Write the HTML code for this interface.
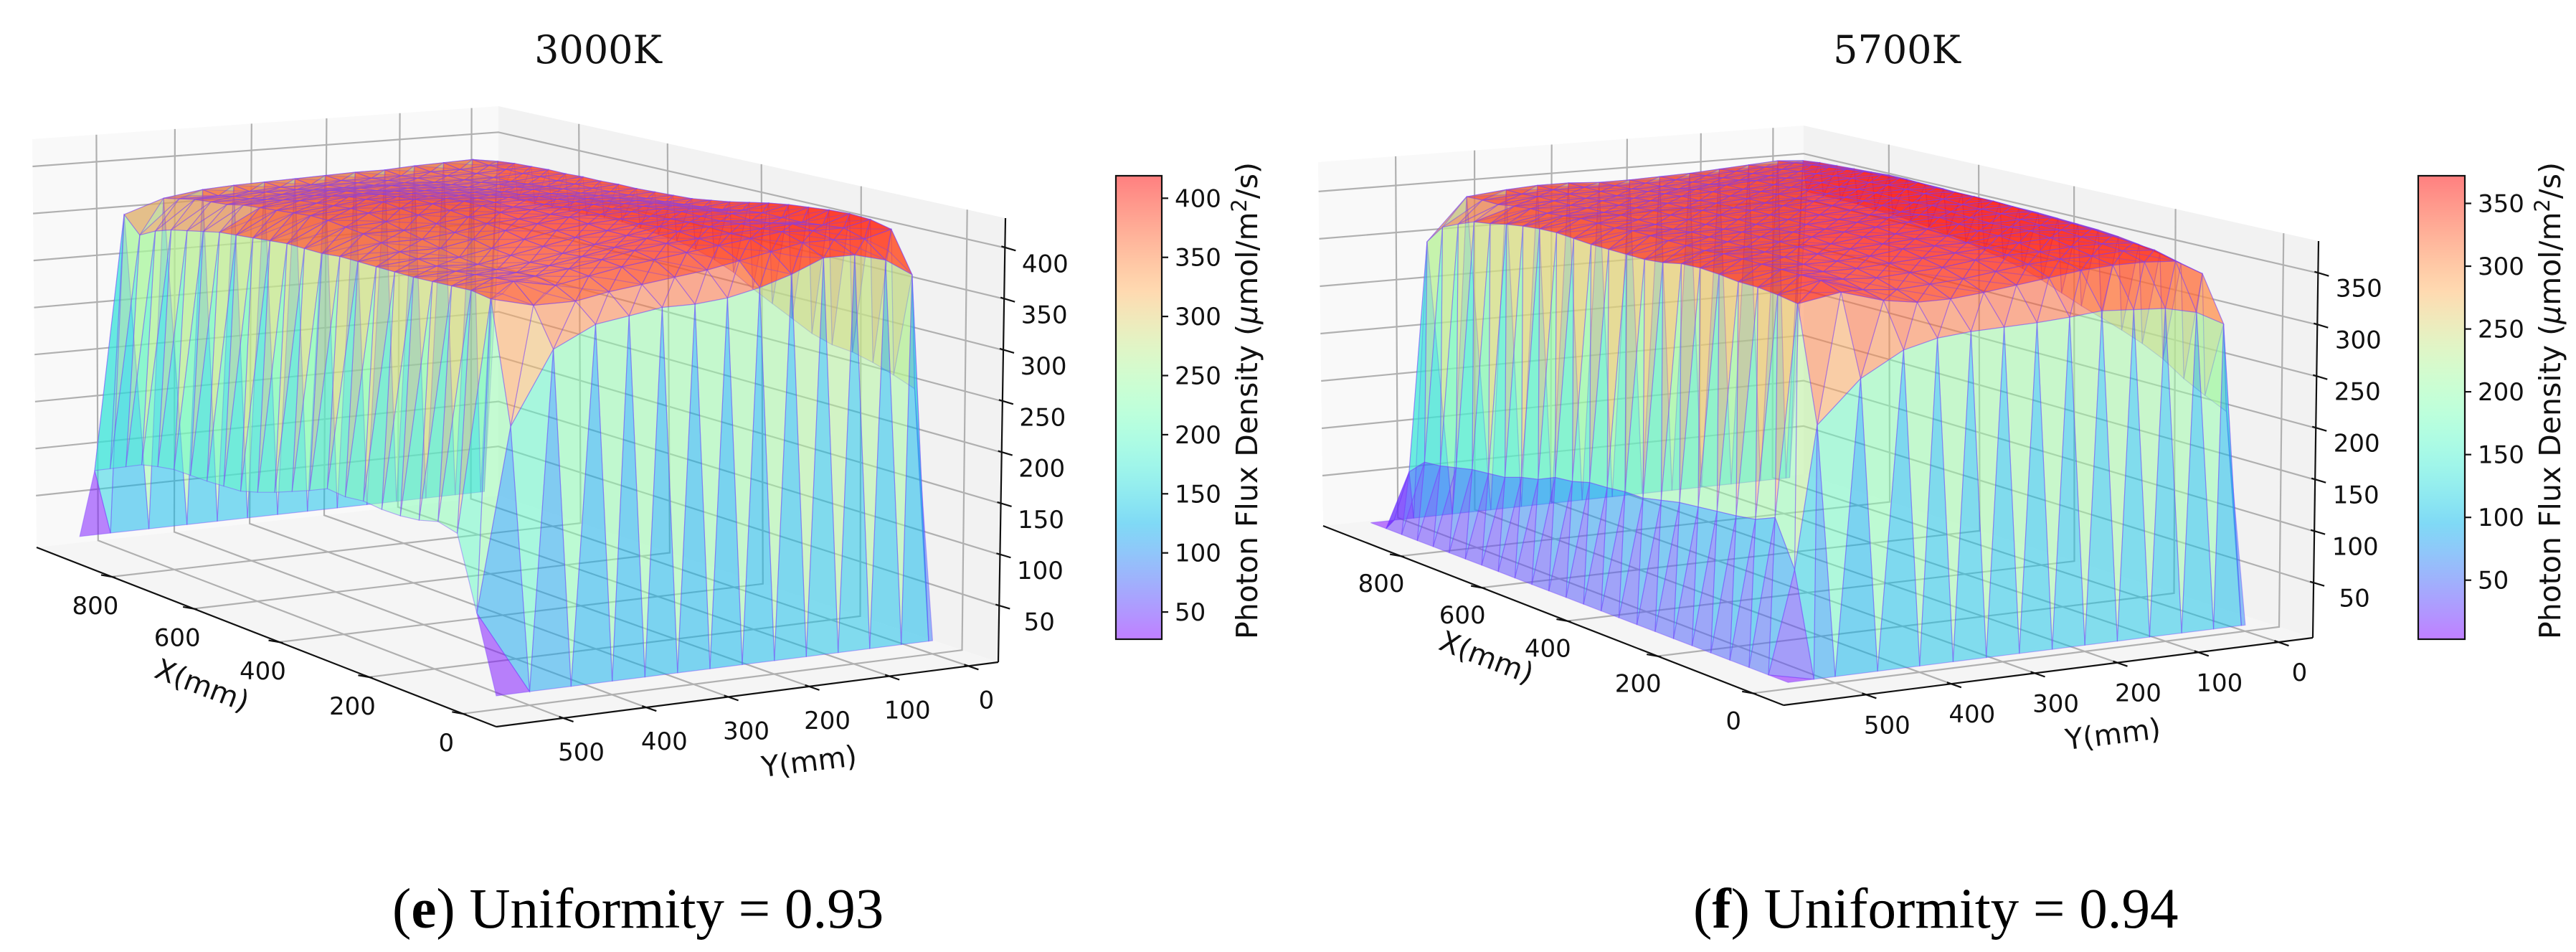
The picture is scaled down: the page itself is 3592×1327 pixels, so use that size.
<!DOCTYPE html>
<html lang="en">
<head>
<meta charset="utf-8">
<title>Photon flux density surfaces, 3000K and 5700K</title>
<style>
html,body{margin:0;padding:0;background:#fff;}
body{width:3592px;height:1327px;overflow:hidden;}
svg{display:block;}
text{fill:#111;}
.tick{font-family:"DejaVu Sans",sans-serif;font-size:34px;}
.axl{font-family:"DejaVu Sans",sans-serif;font-size:40px;}
.cbl{font-family:"DejaVu Sans",sans-serif;font-size:41px;}
.ttl{font-family:"DejaVu Serif",serif;font-size:54px;}
.cap{font-family:"Liberation Serif",serif;font-size:79px;fill:#000;}
</style>
</head>
<body>
<svg id="fig" xmlns="http://www.w3.org/2000/svg" width="3592" height="1327" viewBox="0 0 3592 1327">
<rect width="3592" height="1327" fill="#fff"/>
<text class="ttl" x="834" y="88" text-anchor="middle">3000K</text>
<text class="ttl" x="2645" y="88" text-anchor="middle">5700K</text>
<text class="cap" x="547" y="1293">(<tspan font-weight="bold">e</tspan>) Uniformity = 0.93</text>
<text class="cap" x="2361" y="1293">(<tspan font-weight="bold">f</tspan>) Uniformity = 0.94</text>
</svg>
<script>
// ---------- chart data ----------
const xTicks = [0, 200, 400, 600, 800];
const yTicks = [0, 100, 200, 300, 400, 500];
const zTicksE = [50, 100, 150, 200, 250, 300, 350, 400];
const zTicksF = [50, 100, 150, 200, 250, 300, 350];
const cbarTicksE = [50, 100, 150, 200, 250, 300, 350, 400];
const cbarTicksF = [50, 100, 150, 200, 250, 300, 350];
const xGrid = [0,40,80,120,160,200,240,280,320,360,400,440,480,520,560,600,640,680,720,760,800,840,880,920,960];
const yGridE = [0,5,40,80,120,160,200,240,280,320,360,400,450,500,540];
const yGridF = [0,5,40,80,120,160,200,240,280,320,360,400,450,500,525,555];
const photonFluxE = [
[8,250,258,265,270,272,278,288,298,308,320,328,334,338,340,342,344,344,342,342,340,340,340,340,8],
[8,363,403,408,409,408,406,404,401,397,393,390,387,386,385,384,384,383,383,382,382,381,380,378,8],
[8,380,396,402,400,398,398,398,396,392,390,388,386,385,384,383,382,382,381,381,380,380,380,382,8],
[8,388,398,402,404,400,398,400,398,396,394,392,390,388,386,384,384,382,380,378,378,378,378,381,8],
[8,388,398,404,402,402,400,400,400,398,396,394,392,390,388,386,386,384,382,380,378,378,378,380,8],
[8,375,392,400,400,402,402,400,398,398,396,396,394,392,390,388,386,384,382,380,378,378,376,378,8],
[8,365,386,396,398,400,400,398,398,398,398,396,394,394,392,390,388,386,384,382,380,378,376,378,8],
[8,358,380,392,396,396,394,394,396,398,396,396,394,394,394,392,390,388,386,384,380,378,376,377,8],
[8,355,376,388,392,390,388,390,392,394,394,396,398,398,396,394,392,390,386,384,380,378,374,376,8],
[8,355,372,384,386,384,382,384,386,390,392,394,396,398,398,396,394,390,388,384,380,376,374,375,8],
[8,350,368,378,380,378,376,378,380,384,386,390,394,396,398,396,394,390,386,382,378,376,372,374,8],
[8,345,362,372,376,374,372,372,374,378,382,386,390,394,394,392,390,388,384,380,376,374,370,372,8],
[8,325,362,380,378,376,374,374,376,378,382,386,388,390,390,388,386,384,382,378,376,374,370,366,8],
[8,255,372,375,374,373,372,372,372,372,372,370,370,370,368,366,364,362,358,354,350,344,335,352,8],
[8,80,150,155,150,148,148,150,148,150,142,135,128,122,117,116,115,115,115,112,108,100,92,84,8]
];
const photonFluxF = [
[3,205,215,226,240,250,258,265,272,280,288,295,300,304,308,312,314,316,318,318,320,320,320,320,3],
[3,291,335,340,345,349,352,354,355,356,357,357,358,358,358,359,359,360,360,359,358,357,356,354,3],
[3,305,350,356,358,360,362,363,364,365,366,367,367,367,367,368,368,367,366,364,362,360,358,356,3],
[3,312,352,358,360,362,364,364,365,366,366,366,367,368,368,368,366,366,364,362,360,358,356,354,3],
[3,314,352,356,360,364,366,365,364,365,366,368,366,366,367,366,364,364,362,360,358,356,354,352,3],
[3,316,350,356,358,362,364,364,366,368,366,364,366,366,365,364,364,362,360,360,356,354,352,350,3],
[3,313,346,354,358,360,360,362,364,366,366,364,364,364,364,362,362,360,358,358,354,352,350,349,3],
[3,311,342,350,356,358,360,362,362,364,364,362,362,362,362,360,360,358,358,356,352,350,349,348,3],
[3,310,338,346,352,356,360,360,362,362,360,360,360,360,360,358,358,356,356,354,352,350,349,348,3],
[3,309,335,344,350,354,356,358,358,360,360,358,358,358,358,358,356,356,354,352,350,350,350,350,3],
[3,306,335,342,348,352,354,356,358,358,358,358,356,356,356,356,356,354,352,352,350,350,350,350,3],
[3,298,340,345,350,352,354,356,356,356,356,356,356,354,354,354,354,352,352,350,350,350,348,348,3],
[3,275,352,358,358,358,358,358,358,356,356,356,356,356,354,354,354,352,350,350,348,345,345,344,3],
[3,235,345,348,350,350,352,353,352,348,346,346,346,346,347,348,347,345,342,338,335,328,320,300,3],
[3,100,143,135,132,130,128,126,122,118,118,116,115,110,108,100,96,90,88,86,82,78,76,60,3],
[3,3,3,3,3,3,3,3,3,3,3,3,3,3,3,3,3,3,3,3,3,3,3,3,3]
];

// ---------- drawing ----------
const NS = 'http://www.w3.org/2000/svg';
const fig = document.getElementById('fig');

function rainbow(t){
  t = Math.max(0, Math.min(1, t));
  return [Math.abs(2*t-0.5), Math.sin(Math.PI*t), Math.cos(Math.PI*t/2)].map(c => Math.round(Math.min(1,c)*255));
}
function quadMap(c, d, a, b){
  const dx1=d[0]-a[0], dx2=b[0]-a[0], sx=c[0]-d[0]+a[0]-b[0];
  const dy1=d[1]-a[1], dy2=b[1]-a[1], sy=c[1]-d[1]+a[1]-b[1];
  const den=dx1*dy2-dx2*dy1;
  const g=(sx*dy2-dx2*sy)/den, h=(dx1*sy-sx*dy1)/den;
  return (u,v)=>{
    const w=1+g*u+h*v;
    return [(c[0]+(d[0]*(1+g)-c[0])*u+(b[0]*(1+h)-c[0])*v)/w,
            (c[1]+(d[1]*(1+g)-c[1])*u+(b[1]*(1+h)-c[1])*v)/w];
  };
}
function drawPanel(cfg){
  const floor=quadMap(cfg.C,cfg.D,cfg.A,cfg.B), ceil=quadMap(cfg.Ct,cfg.Dt,cfg.At,cfg.Bt);
  const U=x=>(x-cfg.xlim[0])/(cfg.xlim[1]-cfg.xlim[0]);
  const V=y=>(y-cfg.ylim[0])/(cfg.ylim[1]-cfg.ylim[0]);
  const W=z=>(z-cfg.zlim[0])/(cfg.zlim[1]-cfg.zlim[0]);
  const proj=(x,y,z)=>{
    const u=U(x),v=V(y),w=W(z),f=floor(u,v),c=ceil(u,v);
    return [f[0]+(c[0]-f[0])*w,f[1]+(c[1]-f[1])*w];
  };
  const pts=a=>a.map(p=>p[0].toFixed(1)+','+p[1].toFixed(1)).join(' ');
  const [xl,xh]=cfg.xlim,[yl,yh]=cfg.ylim,[zl,zh]=cfg.zlim;
  const g=document.createElementNS(NS,'g');
  
  
  fig.appendChild(g);

  // panes
  for(const [quad,fill,nm] of [
    [[cfg.A,cfg.D,cfg.Dt,cfg.At],'#f9f9f9','x-pane'],
    [[cfg.D,cfg.C,cfg.Ct,cfg.Dt],'#f2f2f2','y-pane'],
    [[cfg.A,cfg.B,cfg.C,cfg.D],'#f5f5f5','floor-pane']]){
    const p=document.createElementNS(NS,'polygon');
    p.setAttribute('points',pts(quad));
    p.setAttribute('fill',fill);
    
    
    g.appendChild(p);
  }
  // grid
  const grid=(a,nm)=>{
    const l=document.createElementNS(NS,'polyline');
    l.setAttribute('points',pts(a));
    l.setAttribute('fill','none');
    l.setAttribute('stroke','#b0b0b0');
    l.setAttribute('stroke-width','2.2');
    
    
    g.appendChild(l);
  };
  xTicks.forEach(x=>grid([proj(x,yh,zl),proj(x,yl,zl),proj(x,yl,zh)],'x-gridline'));
  yTicks.forEach(y=>grid([proj(xl,y,zl),proj(xh,y,zl),proj(xh,y,zh)],'y-gridline'));
  cfg.zTicks.forEach(z=>grid([proj(xh,yh,z),proj(xh,yl,z),proj(xl,yl,z)],'z-gridline'));

  // surface facets
  const facets=[];
  const M=cfg.matrix, gy=cfg.yGrid;
  const addFacet=(v3,fine)=>{
    const avg=(v3[0][2]+v3[1][2]+v3[2][2])/3;
    const depth=v3.reduce((s,p)=>s+U(p[0])-V(p[1])+0.15*W(p[2]),0);
    facets.push({v3,avg,depth,fine});
  };
  for(let j=0;j<gy.length-1;j++){
    for(let i=0;i<xGrid.length-1;i++){
      const vert=(p,q)=>[xGrid[p],gy[q],M[q][p]];
      const a=vert(i,j),b=vert(i+1,j),c=vert(i,j+1),d=vert(i+1,j+1);
      const corner=(j===gy.length-2&&i===0);
      if(corner){addFacet([a,b,d],false);addFacet([a,d,c],false);}
      else{addFacet([a,b,c],false);addFacet([b,d,c],false);}
      // dense plateau mesh: a second, finer sheet over the cells at full height
      if(Math.min(a[2],b[2],c[2],d[2])>=cfg.denseFrom){
        const m=[(a[0]+b[0])/2,(a[1]+c[1])/2,(a[2]+b[2]+c[2]+d[2])/4];
        addFacet([a,b,m],true);addFacet([b,d,m],true);addFacet([d,c,m],true);addFacet([c,a,m],true);
      }
    }
  }
  facets.sort((p,q)=>q.depth-p.depth);
  const surf=document.createElementNS(NS,'g');
  
  
  g.appendChild(surf);
  for(const f of facets){
    const t=(f.avg-cfg.clim[0])/(cfg.clim[1]-cfg.clim[0]);
    const rgb=rainbow(t);
    const p=document.createElementNS(NS,'polygon');
    p.setAttribute('points',pts(f.v3.map(v=>proj(v[0],v[1],v[2]))));
    p.setAttribute('fill','rgb('+rgb.join(',')+')');
    p.setAttribute('fill-opacity','0.5');
    p.setAttribute('stroke','#7a46ff');
    p.setAttribute('stroke-opacity',f.fine?'0.3':'0.42');
    p.setAttribute('stroke-width','1.2');
    
    
    surf.appendChild(p);
  }
  // axes and ticks
  const seg=(p,q,nm)=>{
    const l=document.createElementNS(NS,'line');
    l.setAttribute('x1',p[0]);l.setAttribute('y1',p[1]);l.setAttribute('x2',q[0]);l.setAttribute('y2',q[1]);
    l.setAttribute('stroke','#111');
    l.setAttribute('stroke-width','2.2');
    
    
    g.appendChild(l);
  };
  const label=(txt,x,y,cls,nm,rot)=>{
    const t=document.createElementNS(NS,'text');
    t.setAttribute('x',x);t.setAttribute('y',y);
    t.setAttribute('class',cls);
    t.setAttribute('text-anchor','middle');
    if(rot)t.setAttribute('transform','rotate('+rot+' '+x+' '+y+')');
    t.textContent=txt;
    
    
    g.appendChild(t);
  };
  seg(cfg.A,cfg.B,'x-axis-line');
  seg(cfg.B,cfg.C,'y-axis-line');
  seg(cfg.C,cfg.Ct,'z-axis-line');
  xTicks.forEach(x=>{
    const p=proj(x,yh,zl);
    seg([p[0]-15,p[1]-2.5],[p[0]+5,p[1]+1],'x-tick');
    label(String(x),p[0]+cfg.xOff[0],p[1]+cfg.xOff[1]+12,'tick','x-tick-label');
  });
  yTicks.forEach(y=>{
    const p=proj(xl,y,zl);
    seg([p[0]-6,p[1]-2],[p[0]+14,p[1]+5],'y-tick');
    label(String(y),p[0]+cfg.yOff[0],p[1]+cfg.yOff[1]+12,'tick','y-tick-label');
  });
  cfg.zTicks.forEach(z=>{
    const p=proj(xl,yl,z);
    seg([p[0]-5,p[1]-2],[p[0]+15,p[1]+4],'z-tick');
    label(String(z),p[0]+cfg.zOff[0],p[1]+cfg.zOff[1]+12,'tick','z-tick-label');
  });
  label('X(mm)',cfg.xLabel[0],cfg.xLabel[1],'axl','x-axis-title',21);
  label('Y(mm)',cfg.yLabel[0],cfg.yLabel[1],'axl','y-axis-title',-7);

  // colorbar
  const cb=cfg.cbar;
  const gradId='grad-'+cfg.id;
  const defs=document.createElementNS(NS,'defs');
  const lg=document.createElementNS(NS,'linearGradient');
  lg.setAttribute('id',gradId);
  lg.setAttribute('x1','0');lg.setAttribute('y1','1');lg.setAttribute('x2','0');lg.setAttribute('y2','0');
  for(let k=0;k<=32;k++){
    const s=document.createElementNS(NS,'stop');
    s.setAttribute('offset',k/32);
    s.setAttribute('stop-color','rgb('+rainbow(k/32).join(',')+')');
    s.setAttribute('stop-opacity','0.5');
    lg.appendChild(s);
  }
  defs.appendChild(lg);g.appendChild(defs);
  const r=document.createElementNS(NS,'rect');
  r.setAttribute('x',cb.x0);r.setAttribute('y',cb.y0);
  r.setAttribute('width',cb.x1-cb.x0);r.setAttribute('height',cb.y1-cb.y0);
  r.setAttribute('fill','url(#'+gradId+')');
  r.setAttribute('stroke','#111');r.setAttribute('stroke-width','2.2');
  
  
  g.appendChild(r);
  const cy=v=>cb.y1-(v-cfg.clim[0])/(cfg.clim[1]-cfg.clim[0])*(cb.y1-cb.y0);
  cfg.cbarTicks.forEach(v=>{
    const y=cy(v);
    seg([cb.x1,y],[cb.x1+9,y],'colorbar-tick');
    const t=document.createElementNS(NS,'text');
    t.setAttribute('x',cb.x1+18);t.setAttribute('y',y+12);
    t.setAttribute('class','tick');
    t.textContent=String(v);
    
    
    g.appendChild(t);
  });
  const bx=cb.x1+133;
  const ct=document.createElementNS(NS,'text');
  ct.setAttribute('class','cbl');
  ct.setAttribute('transform','translate('+bx+' '+cb.y1+') rotate(-90)');
  ct.setAttribute('x',0);ct.setAttribute('y',0);
  ct.innerHTML='Photon Flux Density (<tspan font-style="italic">\u03BC</tspan>mol/m<tspan font-size="29" dy="-15">2</tspan><tspan dy="15">/s)</tspan>';
  
  
  g.appendChild(ct);
}

drawPanel({
  id:'panel-e',
  A:[51,763],B:[692,1013],C:[1392,923],D:[695,691],
  At:[45,194],Bt:[692,372],Ct:[1402,304],Dt:[695,148],
  xlim:[-69,992],ylim:[-38,580],zlim:[-5,429],clim:[27,419],denseFrom:360,
  xOff:[-23,40],yOff:[25,47],zOff:[56,22],
  xLabel:[277,968],yLabel:[1130,1075],
  zTicks:zTicksE,cbarTicks:cbarTicksE,yGrid:yGridE,matrix:photonFluxE,
  cbar:{x0:1556,x1:1620,y0:245,y1:891}
});
drawPanel({
  id:'panel-f',
  A:[1845,733],B:[2487,983],C:[3225,889],D:[2515,661],
  At:[1838,226],Bt:[2490,411],Ct:[3233,336],Dt:[2515,175],
  xlim:[-62,1001],ylim:[-43,596],zlim:[-3,381],clim:[3,372],denseFrom:332,
  xOff:[-27,38],yOff:[29,42],zOff:[57,21],
  xLabel:[2068,929],yLabel:[2948,1037],
  zTicks:zTicksF,cbarTicks:cbarTicksF,yGrid:yGridF,matrix:photonFluxF,
  cbar:{x0:3372,x1:3437,y0:245,y1:891}
});
</script>
</body>
</html>
